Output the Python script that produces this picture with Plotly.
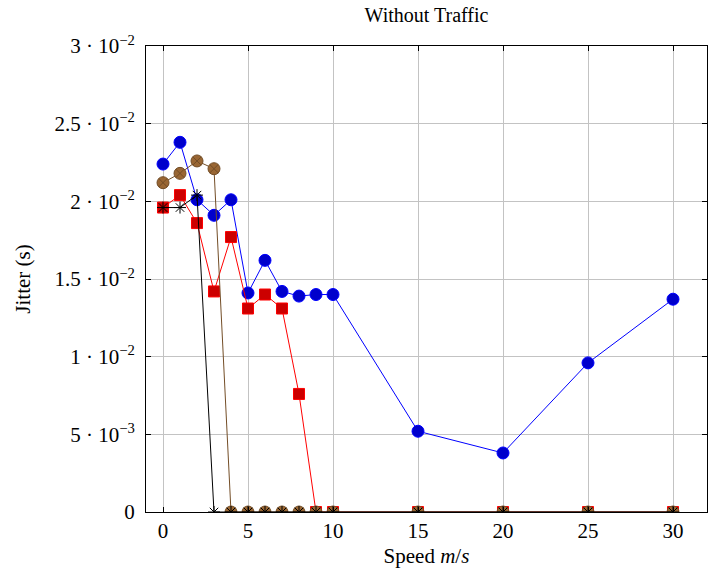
import plotly.graph_objects as go

speeds = [0, 1, 2, 3, 4, 5, 6, 7, 8, 9, 10, 15, 20, 25, 30]
blue_vals = [0.0224, 0.0238, 0.0201, 0.0191, 0.0201, 0.0141, 0.0162, 0.0142, 0.0139, 0.0140, 0.0140, 0.0052, 0.0038, 0.0096, 0.0137]
red_vals = [0.0196, 0.0204, 0.0186, 0.0142, 0.0177, 0.0131, 0.0140, 0.0131, 0.0076, 0, 0, 0, 0, 0, 0]
brown_vals = [0.0212, 0.0218, 0.0226, 0.0221, 0, 0, 0, 0, 0, 0, 0, 0, 0, 0, 0]
black_vals = [0.0196, 0.0196, 0.0204, 0, 0, 0, 0, 0, 0, 0, 0, 0, 0, 0, 0]

x_ticks = [0, 5, 10, 15, 20, 25, 30]
y_ticks = [0, 0.005, 0.01, 0.015, 0.02, 0.025, 0.03]
y_ticktext = ["0", "5 · 10<sup>−3</sup>", "1 · 10<sup>−2</sup>", "1.5 · 10<sup>−2</sup>",
              "2 · 10<sup>−2</sup>", "2.5 · 10<sup>−2</sup>", "3 · 10<sup>−2</sup>"]

FONT = "Liberation Serif, DejaVu Serif, serif"

fig = go.Figure()
fig.add_trace(go.Scatter(x=speeds, y=blue_vals, mode="lines+markers",
                         line=dict(color="rgb(0,0,255)", width=1),
                         marker=dict(symbol="circle", size=12, color="rgb(0,0,204)",
                                     line=dict(color="rgb(0,0,255)", width=1))))
fig.add_trace(go.Scatter(x=speeds, y=red_vals, mode="lines+markers",
                         line=dict(color="rgb(255,0,0)", width=1),
                         marker=dict(symbol="square", size=11, color="rgb(204,0,0)",
                                     line=dict(color="rgb(255,0,0)", width=1))))
fig.add_trace(go.Scatter(x=speeds, y=brown_vals, mode="lines+markers",
                         line=dict(color="rgb(115,77,38)", width=1),
                         marker=dict(symbol="circle-x", size=12, color="rgb(153,102,51)",
                                     line=dict(color="rgb(115,77,38)", width=1))))
fig.add_trace(go.Scatter(x=speeds, y=black_vals, mode="lines+markers",
                         line=dict(color="black", width=1),
                         marker=dict(symbol="asterisk-open", size=10, color="black",
                                     line=dict(color="black", width=1))))

fig.update_layout(
    width=716, height=575,
    margin=dict(l=146, r=9, t=46, b=63),
    paper_bgcolor="white", plot_bgcolor="white",
    showlegend=False,
    font=dict(family=FONT, size=20, color="black"),
    title=dict(text="Without Traffic", x=(146 + 707) / 2 / 716, xanchor="center",
               y=1 - 15 / 575, yanchor="middle", font=dict(family=FONT, size=20)),
)
fig.update_xaxes(range=[-1, 32], tickvals=x_ticks, ticks="inside", ticklen=5,
                 tickcolor="black", showline=True, linecolor="black", linewidth=1,
                 mirror="ticks", showgrid=True, gridcolor="rgb(195,195,195)", gridwidth=1,
                 zeroline=False, tickfont=dict(size=21),
                 title=dict(text="Speed <i>m</i>/<i>s</i>", font=dict(size=21), standoff=6))
fig.update_yaxes(range=[0, 0.03], tickvals=y_ticks, ticktext=y_ticktext, ticks="inside",
                 ticklen=5, tickcolor="black", showline=True, linecolor="black", linewidth=1,
                 mirror="ticks", showgrid=True, gridcolor="rgb(195,195,195)", gridwidth=1,
                 zeroline=False, tickfont=dict(size=21), ticklabelstandoff=6,
                 title=dict(text="Jitter (s)", font=dict(size=21), standoff=18))

fig.write_html("out.html")
